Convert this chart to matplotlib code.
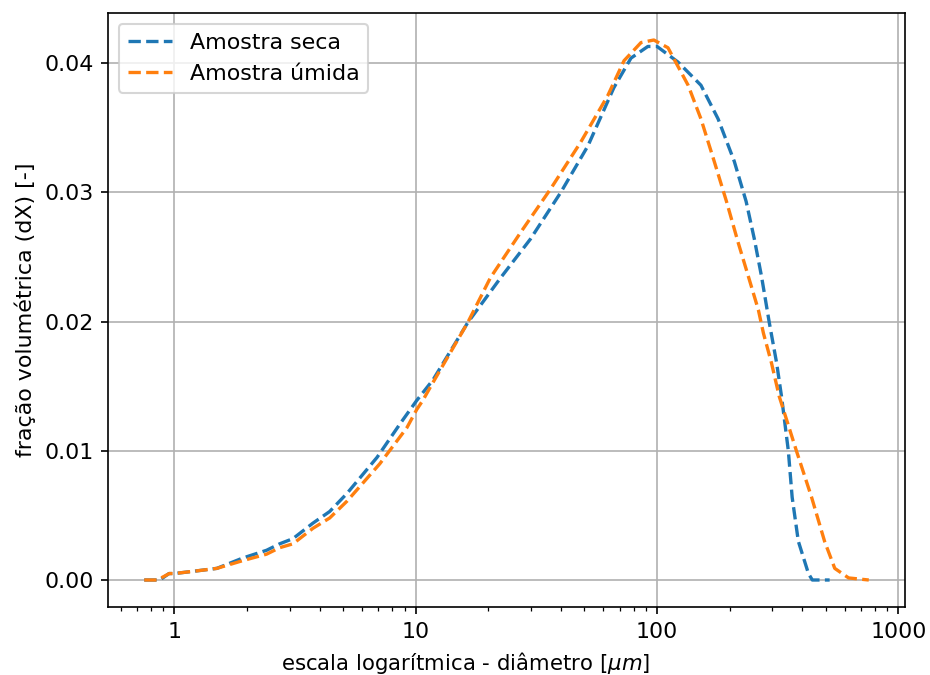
import matplotlib
matplotlib.use("Agg")
import matplotlib.pyplot as plt

# Particle size distributions (diameter in micrometres, volume fraction dX)
d_seca = [0.75, 0.87, 0.95, 1.0, 1.23, 1.5, 1.92, 2.41, 2.73, 3.1, 3.75, 4.4,
          5.19, 6.92, 8.62, 10.1, 11.8, 16.4, 22.5, 29.9, 39.9, 51.7, 66.2, 78,
          91.6, 100, 122, 152, 179, 209, 234, 253, 271, 292, 313, 328, 350, 363,
          385, 424, 440, 519]
v_seca = [0.0, 0.0, 0.0005, 0.0005, 0.0007, 0.0009, 0.0017, 0.0023, 0.0028,
          0.0032, 0.0044, 0.0053, 0.0067, 0.0095, 0.0121, 0.0139, 0.0155, 0.0199,
          0.0234, 0.0264, 0.0300, 0.0336, 0.0381, 0.0404, 0.0413, 0.0413, 0.0401,
          0.0383, 0.0357, 0.0324, 0.0293, 0.0264, 0.0235, 0.0199, 0.0168, 0.0142,
          0.0100, 0.0064, 0.0030, 0.0005, 0.0, 0.0]

d_umida = [0.75, 0.85, 0.953, 1.0, 1.23, 1.5, 1.92, 2.41, 2.73, 3.1, 3.75, 4.4,
           5.19, 7.1, 9.2, 10.1, 10.7, 11.8, 16.4, 20.4, 27.2, 36.3, 48.3, 62.5,
           73, 85.8, 97, 111, 134.5, 152, 172.6, 194, 217, 239, 263, 276, 298,
           321, 378, 437, 494.5, 545, 622, 754]
v_umida = [0.0, 0.0, 0.0005, 0.0005, 0.0007, 0.0009, 0.0015, 0.0020, 0.0025,
           0.0028, 0.0040, 0.0048, 0.0061, 0.0090, 0.0118, 0.0132, 0.0139, 0.0153,
           0.0199, 0.0234, 0.0269, 0.0303, 0.0339, 0.0375, 0.0402, 0.0416, 0.0418,
           0.0412, 0.0383, 0.0357, 0.0324, 0.0293, 0.0261, 0.0235, 0.0209, 0.0191,
           0.0168, 0.0142, 0.0100, 0.0064, 0.0030, 0.0009, 0.00016, 0.0]

plt.rcParams["font.size"] = 10.6

fig = plt.figure(figsize=(6.2, 4.5), dpi=150)
ax = fig.add_axes([108 / 930, 68 / 675, 797 / 930, 594 / 675])

ax.plot(d_seca, v_seca, "--", color="C0", linewidth=1.6, label="Amostra seca")
ax.plot(d_umida, v_umida, "--", color="C1", linewidth=1.6, label="Amostra úmida")

ax.set_xscale("log")
ax.xaxis.set_major_formatter(matplotlib.ticker.ScalarFormatter())
ax.set_xticks([1, 10, 100, 1000])
ax.set_yticks([0.0, 0.01, 0.02, 0.03, 0.04])
ax.grid(True)
ax.set_xlabel(r"escala logarítmica - diâmetro [$\mu m$]", fontsize=10.2)
ax.xaxis.set_label_coords(0.449, -0.073)
ax.set_ylabel("fração volumétrica (dX) [-]")
ax.legend(loc="upper left")

fig.savefig("out.png", dpi=150)
